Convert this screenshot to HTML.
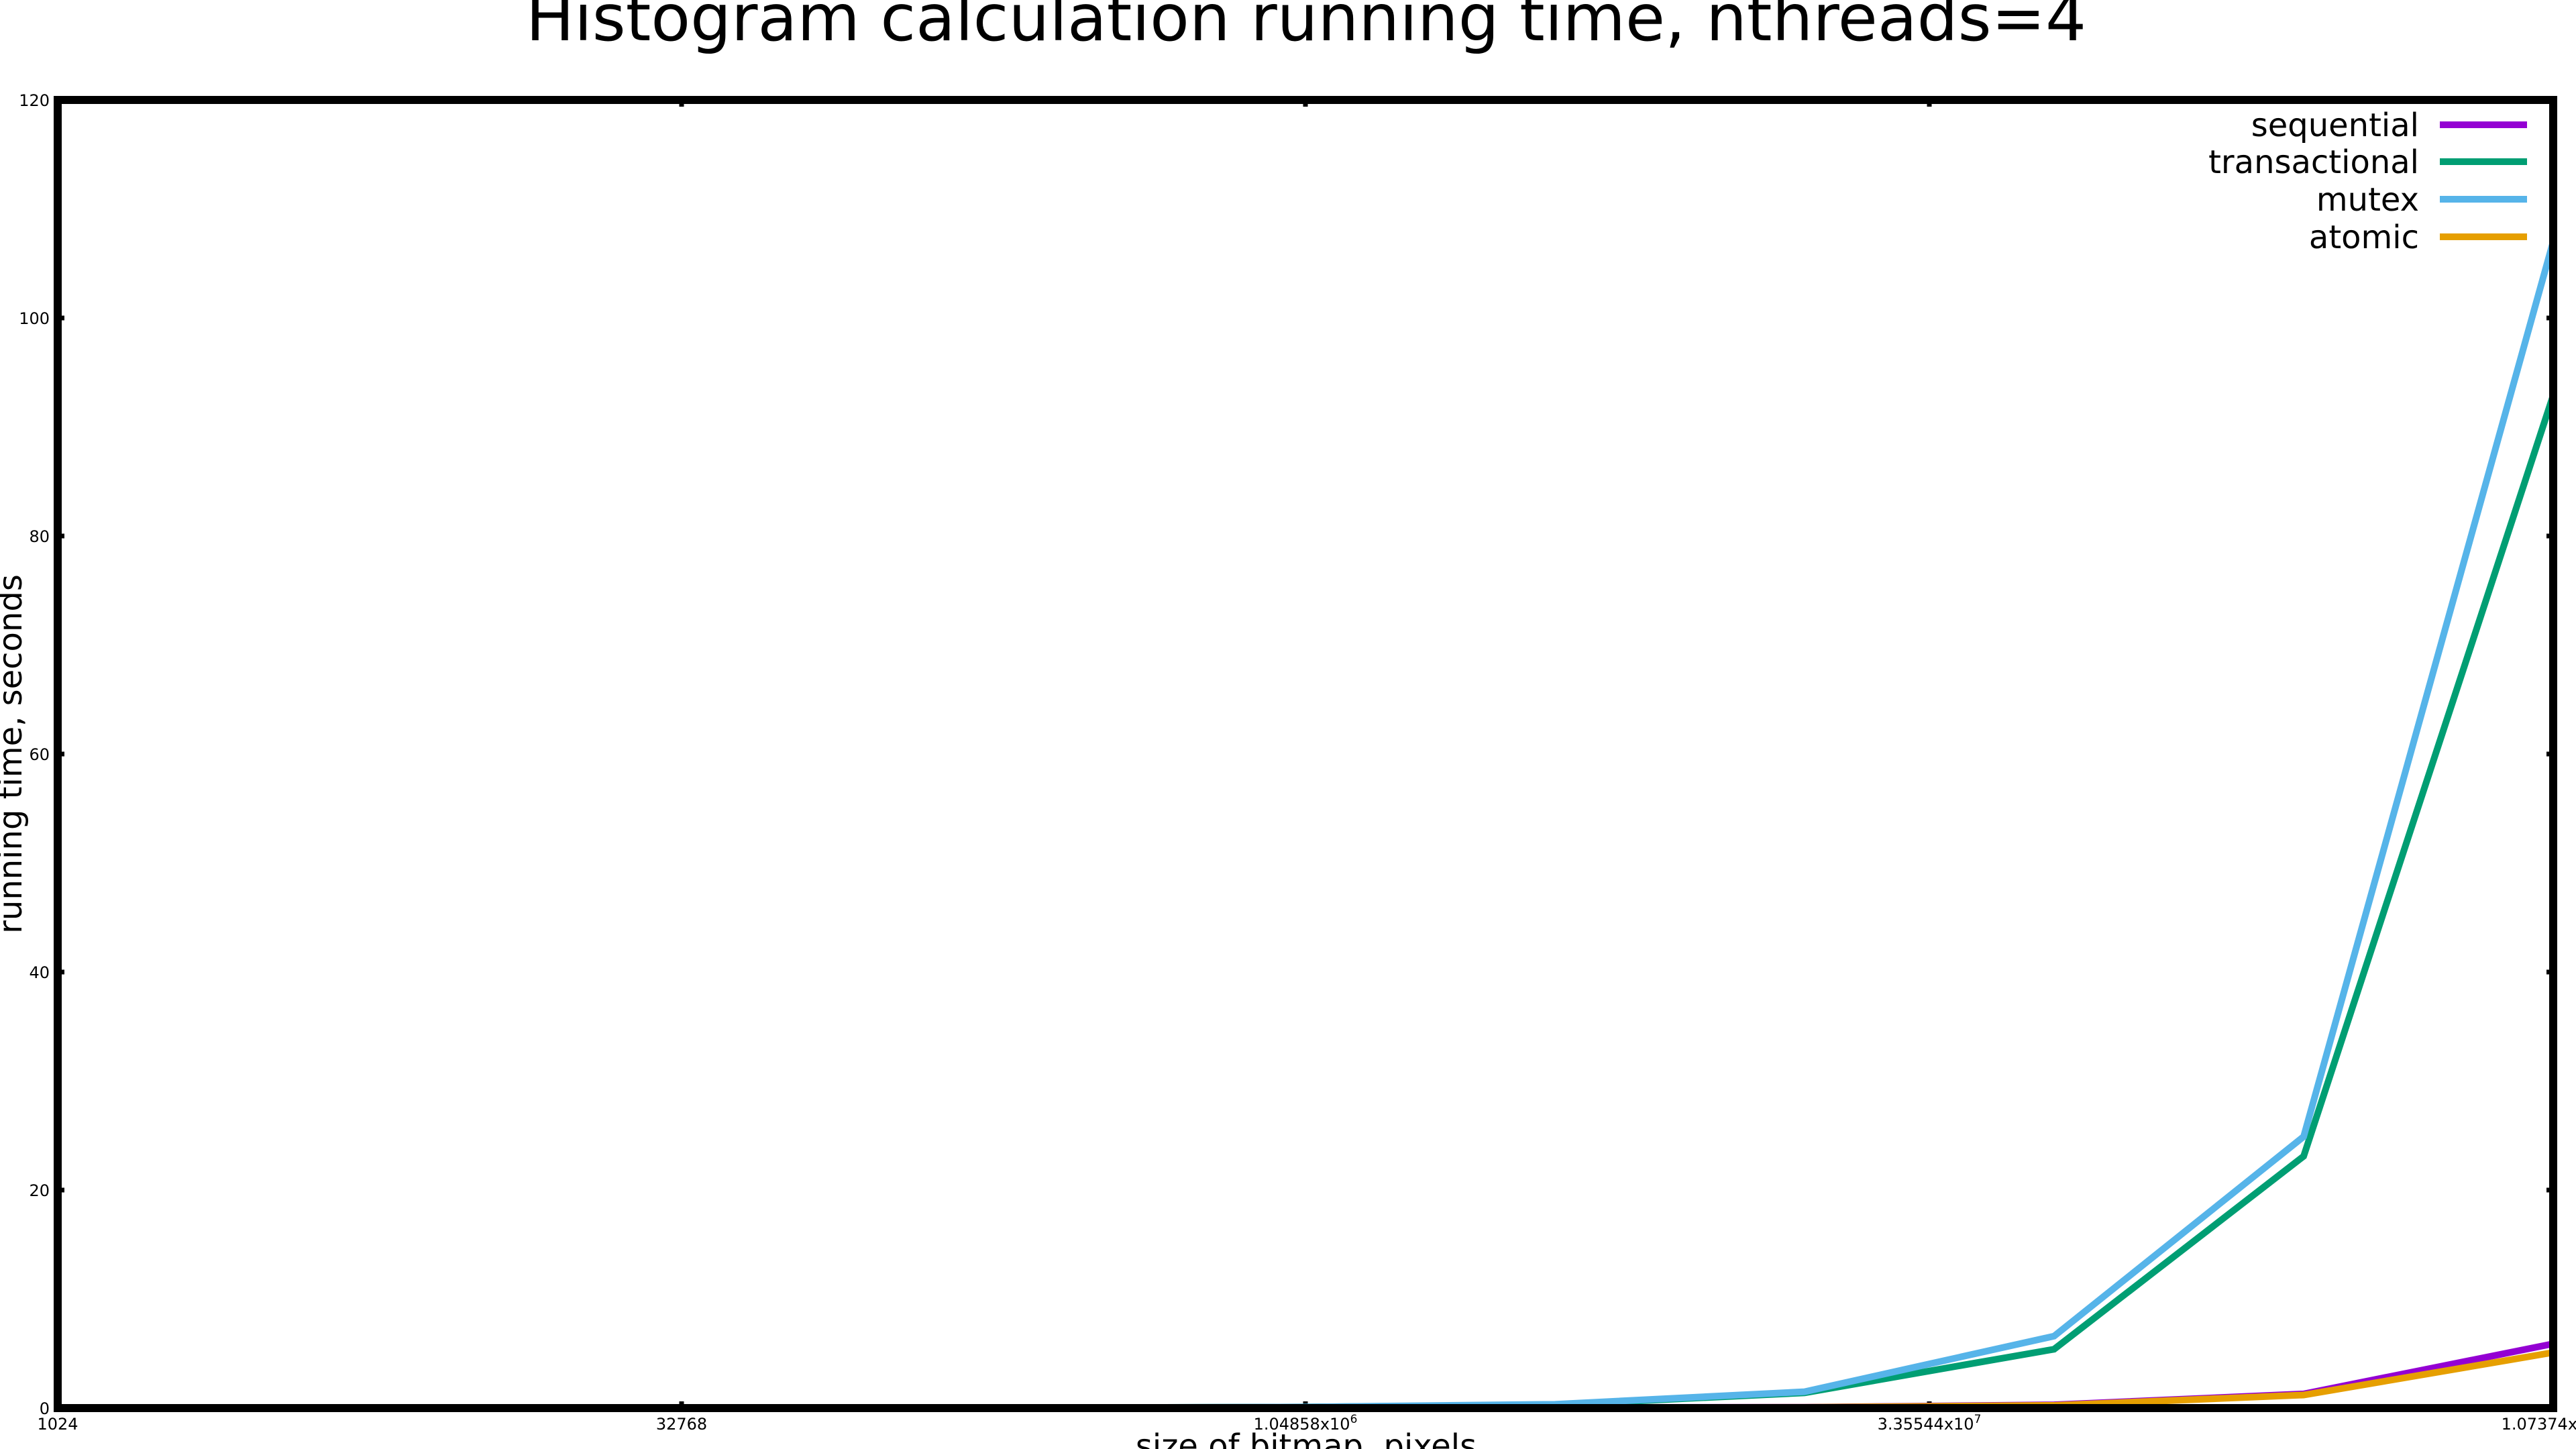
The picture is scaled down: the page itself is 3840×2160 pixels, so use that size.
<!DOCTYPE html>
<html><head><meta charset="utf-8"><style>
html,body{margin:0;padding:0;background:#fff}
svg{display:block}
text{font-family:"DejaVu Sans","Liberation Sans",sans-serif}
</style></head><body>
<svg id="chart" width="3840" height="2160" viewBox="0 0 3840 2160">
<text x="1947" y="60" font-size="96" text-anchor="middle">Histogram calculation running time, nthreads=4</text>
<text x="1947" y="2172" font-size="48" text-anchor="middle">size of bitmap, pixels</text>
<text transform="translate(32,1124) rotate(-90)" font-size="48" text-anchor="middle">running time, seconds</text>
<g id="ticks"></g>
<g id="series"></g>
<rect x="86" y="149" width="3720" height="1950" fill="none" stroke="#000" stroke-width="12"/>
<g id="legend"></g>
</svg>
<script>
const exponents=[10,12,14,16,18,20,22,24,26,28,30];
const seqVals=[0.0001,0.0002,0.0005,0.001,0.004,0.015,0.06,0.08,0.3,1.3,5.9];
const transVals=[0.001,0.002,0.004,0.01,0.03,0.1,0.3,1.4,5.4,23.1,92.9];
const mutexVals=[0.001,0.002,0.004,0.01,0.03,0.1,0.35,1.5,6.6,24.9,107];
const atomicVals=[0.0001,0.0002,0.0005,0.001,0.004,0.015,0.05,0.07,0.25,1.2,5.1];
const yTicks=[0,20,40,60,80,100,120];
const xTickExp=[10,15,20,25,30];
const xTickLabels=[["1024",""],["32768",""],["1.04858x10","6"],["3.35544x10","7"],["1.07374x10","9"]];
const names=["sequential","transactional","mutex","atomic"];
const colors=["#9400d3","#009e73","#56b4e9","#e69f00"];
const allVals=[seqVals,transVals,mutexVals,atomicVals];
const L=86,R=3806,T=149,B=2099;
const NS="http://www.w3.org/2000/svg";
const xs=e=>L+(e-10)/(30-10)*(R-L);
const ys=v=>B-v/120*(B-T);
function mk(tag,attrs,parent){const el=document.createElementNS(NS,tag);for(const k in attrs)el.setAttribute(k,attrs[k]);parent.appendChild(el);return el;}
const tg=document.getElementById('ticks');
yTicks.forEach(v=>{
 const y=ys(v);
 const l=mk('line',{x1:L,x2:L+10,y1:y,y2:y,stroke:'#000','stroke-width':7},tg);
 
 
 const r=mk('line',{x1:R-10,x2:R,y1:y,y2:y,stroke:'#000','stroke-width':7},tg);
 
 
 const t=mk('text',{x:74,y:y+9,'font-size':24,'text-anchor':'end'},tg);
 t.textContent=v;
 
 
});
xTickExp.forEach((e,i)=>{
 const x=xs(e);
 const l=mk('line',{x1:x,x2:x,y1:B,y2:B-10,stroke:'#000','stroke-width':7},tg);
 
 
 const m=mk('line',{x1:x,x2:x,y1:T,y2:T+10,stroke:'#000','stroke-width':7},tg);
 
 
 const t=mk('text',{x:x,y:2131,'font-size':24,'text-anchor':'middle'},tg);
 t.textContent=xTickLabels[i][0];
 if(xTickLabels[i][1]){const s=mk('tspan',{'font-size':17,dy:-10},t);s.textContent=xTickLabels[i][1];}
 
 
});
const sg=document.getElementById('series');
allVals.forEach((vals,si)=>{
 const pts=vals.map((v,i)=>xs(exponents[i])+','+ys(v)).join(' ');
 const p=mk('polyline',{points:pts,fill:'none',stroke:colors[si],'stroke-width':10,'stroke-linejoin':'miter'},sg);
 
 
});
const lg=document.getElementById('legend');
const ly=[186,241,297,353];
names.forEach((n,i)=>{
 const t=mk('text',{x:3606,y:ly[i]+17,'font-size':48,'text-anchor':'end'},lg);
 t.textContent=n;
 
 
 const l=mk('line',{x1:3637,x2:3767,y1:ly[i],y2:ly[i],stroke:colors[i],'stroke-width':10},lg);
 
 
});
</script>
</body></html>
